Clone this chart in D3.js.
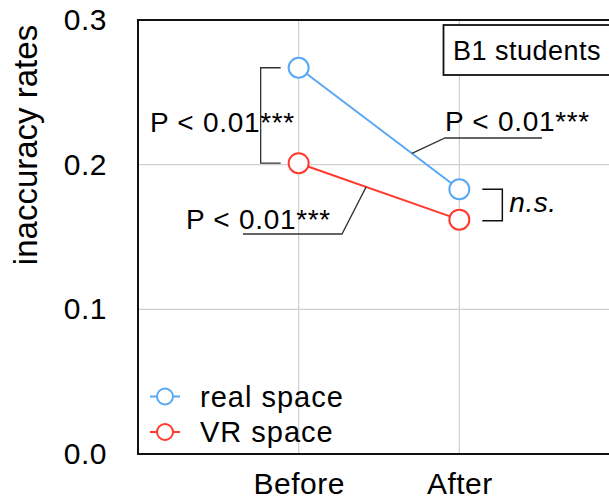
<!DOCTYPE html>
<html>
<head>
<meta charset="utf-8">
<script src="https://cdn.jsdelivr.net/npm/d3@7"></script>
<style>
    body { margin: 0; background: #fff; }
    text { font-family: "Liberation Sans", Arial, Helvetica, sans-serif; fill: #000; }
</style>
</head>
<body>
<script>
// data
var phases = ["Before", "After"];
var realSpace = [0.267, 0.183];
var vrSpace = [0.201, 0.162];
var yTicks = [0.0, 0.1, 0.2, 0.3];
var seriesNames = ["real space", "VR space"];
var pText = "P < 0.01***";
var nsText = "n.s.";
var groupLabel = "B1 students";

var W = 609, H = 502;
var margin = { top: 20, left: 138 };
var plotRight = 620, plotBottom = 454;
var blue = "#58a9f4", red = "#ff392e";

var svg = d3.select("body").append("svg")
    .attr("width", W)
    .attr("height", H);

var x = d3.scalePoint().domain(phases).range([margin.left, plotRight]).padding(1);
var y = d3.scaleLinear().domain([0, 0.3]).range([plotBottom, margin.top]);

// grid
svg.append("g").selectAll("line.h")
    .data(yTicks.slice(1, 3))
    .enter().append("line")
    .attr("x1", margin.left).attr("x2", plotRight)
    .attr("y1", function (d) { return y(d); })
    .attr("y2", function (d) { return y(d); })
    .attr("stroke", "#cfcfcf").attr("stroke-width", 1.2);
svg.append("g").selectAll("line.v")
    .data(phases)
    .enter().append("line")
    .attr("x1", function (d) { return x(d); })
    .attr("x2", function (d) { return x(d); })
    .attr("y1", margin.top).attr("y2", plotBottom)
    .attr("stroke", "#cfcfcf").attr("stroke-width", 1.2);

// frame
svg.append("rect")
    .attr("x", margin.left).attr("y", margin.top)
    .attr("width", plotRight - margin.left)
    .attr("height", plotBottom - margin.top)
    .attr("fill", "none").attr("stroke", "#111").attr("stroke-width", 2);

// axes
var yAxis = svg.append("g")
    .attr("transform", "translate(" + margin.left + ",0)")
    .call(d3.axisLeft(y).tickValues(yTicks).tickFormat(d3.format(".1f")).tickSize(0).tickPadding(31));
yAxis.select(".domain").remove();
yAxis.selectAll("text").style("font-size", "30px").style("letter-spacing", "0.5px").attr("fill", "#000");

var xAxis = svg.append("g")
    .attr("transform", "translate(0," + plotBottom + ")")
    .call(d3.axisBottom(x).tickSize(0).tickPadding(19));
xAxis.select(".domain").remove();
xAxis.selectAll("text").style("font-size", "30px").style("letter-spacing", "0.5px").attr("fill", "#000");

svg.append("text")
    .attr("transform", "rotate(-90)")
    .attr("x", -145).attr("y", 37)
    .style("text-anchor", "middle")
    .style("font-size", "33px")
    .text("inaccuracy rates");

// series
var series = [
    { name: seriesNames[0], values: realSpace, color: blue },
    { name: seriesNames[1], values: vrSpace, color: red }
];
var line = d3.line()
    .x(function (d, i) { return x(phases[i]); })
    .y(function (d) { return y(d); });

series.forEach(function (s) {
    svg.append("path")
        .datum(s.values)
        .attr("d", line)
        .attr("fill", "none")
        .attr("stroke", s.color)
        .attr("stroke-width", 2);
    svg.append("g").selectAll("circle")
        .data(s.values)
        .enter().append("circle")
        .attr("cx", function (d, i) { return x(phases[i]); })
        .attr("cy", function (d) { return y(d); })
        .attr("r", 10)
        .attr("fill", "#fff")
        .attr("stroke", s.color)
        .attr("stroke-width", 2);
});

// annotations
var ink = "#333";
function pointOn(vals, t) {
    return [x(phases[0]) + t * (x(phases[1]) - x(phases[0])),
            y(vals[0]) + t * (y(vals[1]) - y(vals[0]))];
}

// bracket between series at Before
var bx = x(phases[0]);
svg.append("path")
    .attr("d", "M" + (bx - 18) + "," + y(realSpace[0]) + "H" + (bx - 38) +
        "V" + y(vrSpace[0]) + "H" + (bx - 18))
    .attr("fill", "none").attr("stroke", ink).attr("stroke-width", 1.3);
svg.append("text")
    .attr("x", 150).attr("y", 132)
    .style("font-size", "28px")
    .style("letter-spacing", "0.7px")
    .text(pText);

// real space change
var pb = pointOn(realSpace, 0.705);
svg.append("path")
    .attr("d", "M" + pb[0] + "," + pb[1] + "L445,138H542")
    .attr("fill", "none").attr("stroke", ink).attr("stroke-width", 1.3);
svg.append("text")
    .attr("x", 445).attr("y", 131)
    .style("font-size", "28px")
    .style("letter-spacing", "0.7px")
    .text(pText);

// VR space change
var pr = pointOn(vrSpace, 0.42);
svg.append("path")
    .attr("d", "M" + pr[0] + "," + pr[1] + "L342,234H243")
    .attr("fill", "none").attr("stroke", ink).attr("stroke-width", 1.3);
svg.append("text")
    .attr("x", 186).attr("y", 229)
    .style("font-size", "28px")
    .style("letter-spacing", "0.7px")
    .text(pText);

// n.s. bracket at After
var ax = x(phases[1]);
svg.append("path")
    .attr("d", "M" + (ax + 23) + "," + y(realSpace[1]) + "H" + (ax + 43) +
        "V" + (y(vrSpace[1]) + 1) + "H" + (ax + 23))
    .attr("fill", "none").attr("stroke", "#111").attr("stroke-width", 1.5);
svg.append("text")
    .attr("x", ax + 50).attr("y", 212)
    .style("font-size", "28px")
    .style("font-style", "italic")
    .style("letter-spacing", "0.5px")
    .text(nsText);

// group label box
svg.append("rect")
    .attr("x", 443.5).attr("y", 25)
    .attr("width", 200).attr("height", 50)
    .attr("fill", "#fff").attr("stroke", "#111").attr("stroke-width", 1.8);
svg.append("text")
    .attr("x", 453).attr("y", 60)
    .style("font-size", "27px")
    .style("letter-spacing", "0.5px")
    .text(groupLabel);

// legend
var legend = svg.append("g").selectAll("g")
    .data(series)
    .enter().append("g")
    .attr("transform", function (d, i) { return "translate(165," + (396.5 + i * 35.5) + ")"; });
legend.append("line")
    .attr("x1", -15).attr("x2", 15)
    .attr("stroke", function (d) { return d.color; })
    .attr("stroke-width", 2);
legend.append("circle")
    .attr("r", 8)
    .attr("fill", "#fff")
    .attr("stroke", function (d) { return d.color; })
    .attr("stroke-width", 2);
legend.append("text")
    .attr("x", 35).attr("y", 10)
    .style("font-size", "29px")
    .style("letter-spacing", "1px")
    .text(function (d) { return d.name; });
</script>
</body>
</html>
